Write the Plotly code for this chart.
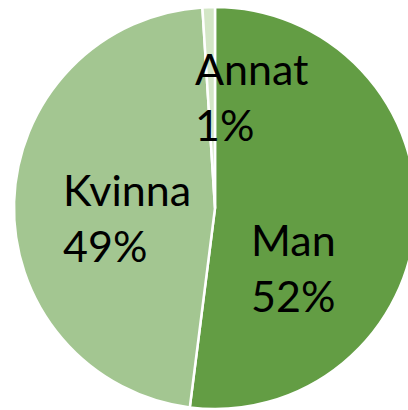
import plotly.graph_objects as go

categories = ["Man", "Kvinna", "Annat"]
values = [52, 47, 1]
pct_labels = ["52%", "49%", "1%"]
colors = ["#639D44", "#A3C691", "#D3E6C6"]

W, H = 430, 410
cx, cy, r = 215, 208, 201

fig = go.Figure(go.Pie(
    labels=categories,
    values=values,
    sort=False,
    direction="clockwise",
    rotation=0,
    textinfo="none",
    hoverinfo="label+percent",
    marker=dict(colors=colors, line=dict(color="white", width=2.5)),
    domain=dict(x=[(cx - r) / W, min(1, (cx + r) / W)],
                y=[max(0, 1 - (cy + r) / H), 1 - (cy - r) / H]),
    showlegend=False,
))

# label positions (left edge, top) in pixels
label_pos = {"Annat": (193, 41), "Kvinna": (61, 162), "Man": (249, 212)}
for cat, pct in zip(categories, pct_labels):
    x, y = label_pos[cat]
    fig.add_annotation(
        x=x / W, y=1 - y / H, xref="paper", yref="paper",
        xanchor="left", yanchor="top", align="left",
        text=f"{cat}<br>{pct}", showarrow=False,
        font=dict(family="Lato, Calibri, sans-serif", size=43, color="black"),
    )

fig.update_layout(
    width=W, height=H,
    margin=dict(l=0, r=0, t=0, b=0),
    paper_bgcolor="white", plot_bgcolor="white",
)

fig.write_html(
    "out.html",
    config={"displayModeBar": False},
    post_script="document.body.style.margin='0';document.body.style.overflow='hidden';",
)
